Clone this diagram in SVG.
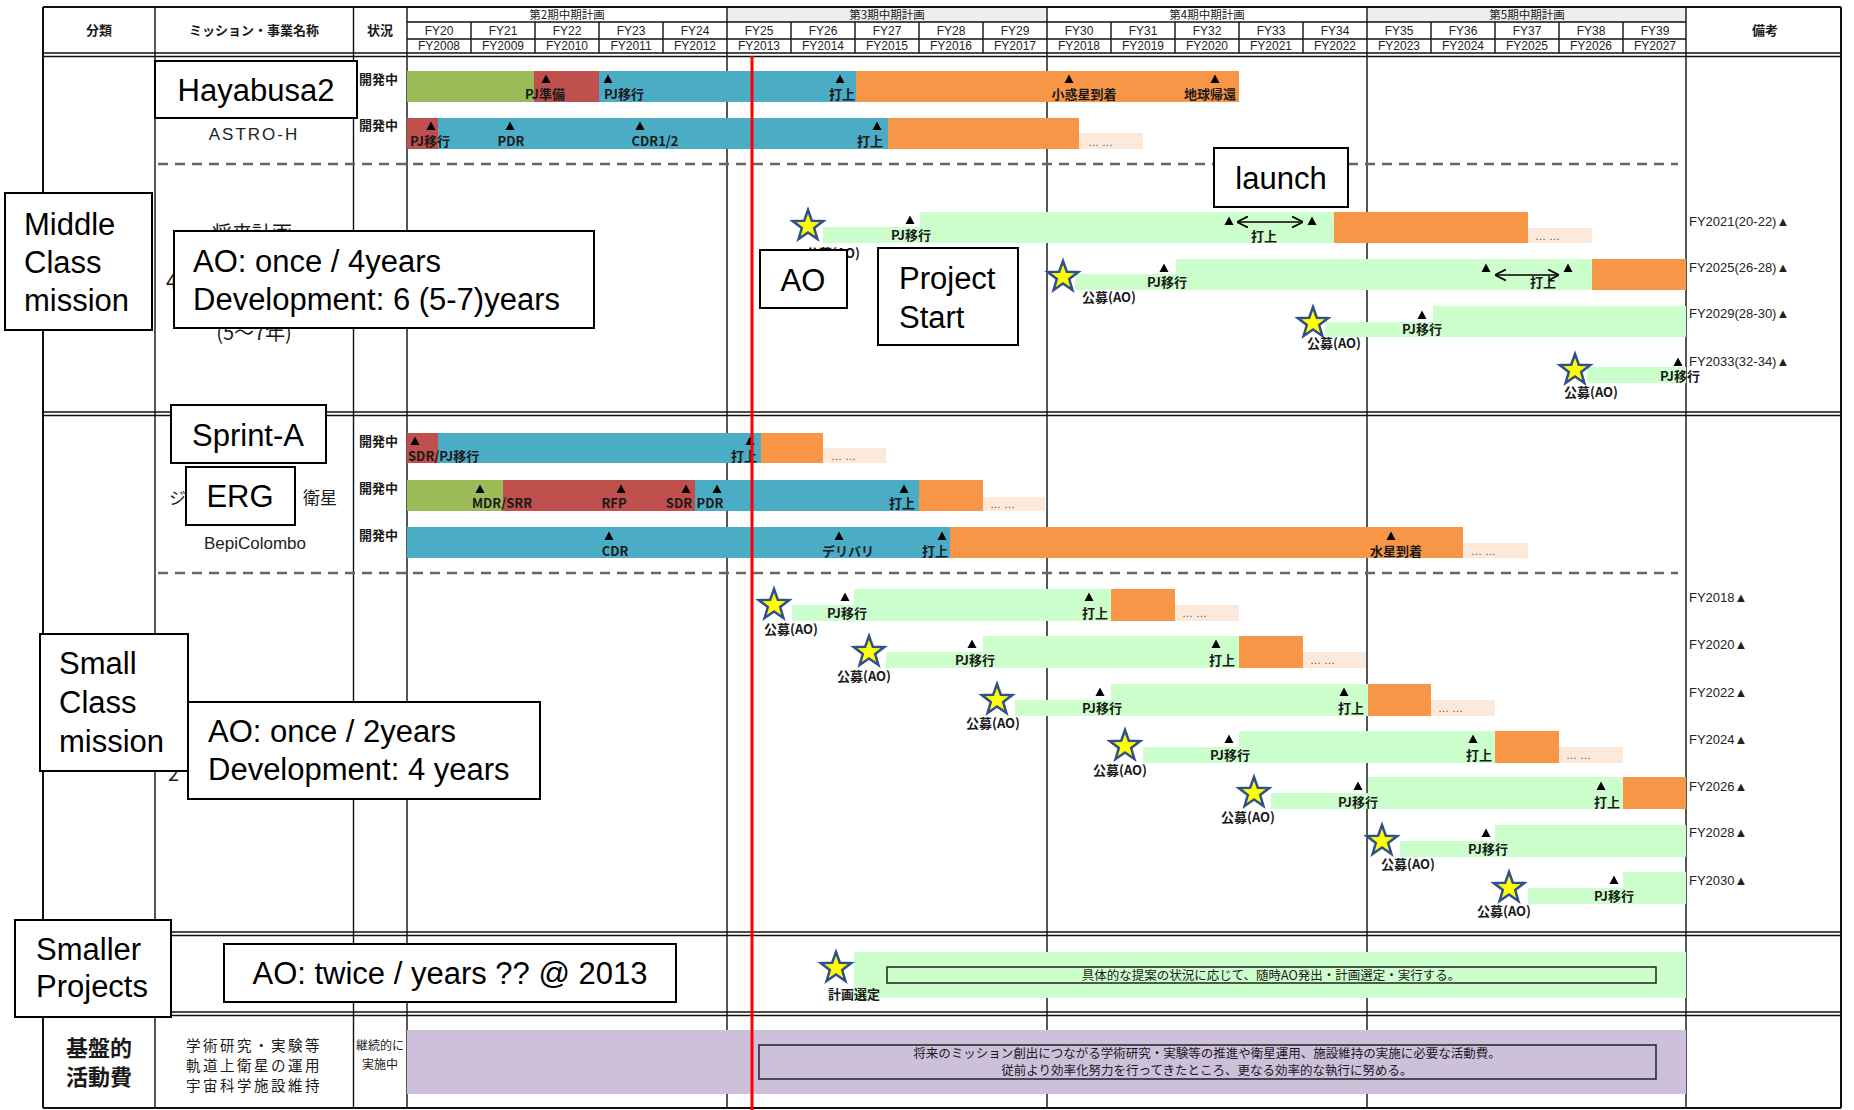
<svg xmlns="http://www.w3.org/2000/svg" xmlns:xlink="http://www.w3.org/1999/xlink" width="1854" height="1110" viewBox="0 0 1854 1110">
<style>
.jp{font-family:"Noto Sans CJK JP","Noto Sans CJK SC",sans-serif;fill:#1a1a1a}
.h{font-size:13px;font-weight:bold}
.hs{font-size:11.5px}
.lab{font-size:13px;font-weight:bold}
.ml{font-size:12.5px}
.rem{font-family:"Liberation Sans",Arial,sans-serif;font-size:13px;fill:#222}
.yr{font-family:"Liberation Sans",Arial,sans-serif;font-size:12px;fill:#222}
.en{font-family:"Liberation Sans",Arial,sans-serif;font-size:31px;fill:#000}
.nm{font-family:"Liberation Sans",Arial,sans-serif;font-size:17px;fill:#222}
.big{font-size:20px}
.box{fill:#fff;stroke:#000;stroke-width:2}
.ln{stroke:#111;stroke-width:1.4;fill:none}
.ln2{stroke:#111;stroke-width:2;fill:none}
.dash{stroke:#666;stroke-width:2.5;stroke-dasharray:10,7;fill:none}
.g{fill:#9bbb59}.r{fill:#c0504d}.b{fill:#4bacc6}.o{fill:#f79646}.p{fill:#fde9d9}.lg{fill:#ccffcc}.pu{fill:#ccc0da}
.dots{font-family:"Liberation Sans",Arial,sans-serif;font-size:11px;fill:#555}
.c{text-anchor:middle}
</style>
<defs>
<path id="tri" d="M0,-4.5 L4.5,4 L-4.5,4 Z" fill="#000"/>
<path id="star" d="M0,-16 L3.82,-5.26 L15.22,-4.94 L6.18,2.01 L9.4,12.94 L0,6.5 L-9.4,12.94 L-6.18,2.01 L-15.22,-4.94 L-3.82,-5.26 Z" fill="#ffff00" stroke="#2f4f8f" stroke-width="2.5" stroke-linejoin="miter"/>
<marker id="ah" viewBox="0 0 10 10" refX="9" refY="5" markerWidth="7" markerHeight="7" orient="auto-start-reverse"><path d="M0,0 L10,5 L0,10" fill="none" stroke="#000" stroke-width="1.6"/></marker>
</defs>
<rect width="1854" height="1110" fill="#fff"/>

<g id="header">
<rect x="727" y="7" width="320" height="15" fill="#eeeeee"/>
<rect x="1367" y="7" width="319" height="15" fill="#eeeeee"/>
<text class="jp h c" x="99" y="35">分類</text>
<text class="jp h c" x="254" y="35">ミッション・事業名称</text>
<text class="jp h c" x="380" y="35">状況</text>
<text class="jp h c" x="1765" y="35">備考</text>
<text class="jp hs c" x="567" y="19">第2期中期計画</text>
<text class="jp hs c" x="887" y="19">第3期中期計画</text>
<text class="jp hs c" x="1207" y="19">第4期中期計画</text>
<text class="jp hs c" x="1527" y="19">第5期中期計画</text>
<g class="yr" text-anchor="middle">
<text x="439" y="35">FY20</text><text x="503" y="35">FY21</text><text x="567" y="35">FY22</text><text x="631" y="35">FY23</text><text x="695" y="35">FY24</text>
<text x="759" y="35">FY25</text><text x="823" y="35">FY26</text><text x="887" y="35">FY27</text><text x="951" y="35">FY28</text><text x="1015" y="35">FY29</text>
<text x="1079" y="35">FY30</text><text x="1143" y="35">FY31</text><text x="1207" y="35">FY32</text><text x="1271" y="35">FY33</text><text x="1335" y="35">FY34</text>
<text x="1399" y="35">FY35</text><text x="1463" y="35">FY36</text><text x="1527" y="35">FY37</text><text x="1591" y="35">FY38</text><text x="1655" y="35">FY39</text>
<text x="439" y="50">FY2008</text><text x="503" y="50">FY2009</text><text x="567" y="50">FY2010</text><text x="631" y="50">FY2011</text><text x="695" y="50">FY2012</text>
<text x="759" y="50">FY2013</text><text x="823" y="50">FY2014</text><text x="887" y="50">FY2015</text><text x="951" y="50">FY2016</text><text x="1015" y="50">FY2017</text>
<text x="1079" y="50">FY2018</text><text x="1143" y="50">FY2019</text><text x="1207" y="50">FY2020</text><text x="1271" y="50">FY2021</text><text x="1335" y="50">FY2022</text>
<text x="1399" y="50">FY2023</text><text x="1463" y="50">FY2024</text><text x="1527" y="50">FY2025</text><text x="1591" y="50">FY2026</text><text x="1655" y="50">FY2027</text>
</g>
</g>

<g id="grid">
<path class="ln" d="M407,22 H1686 M407,39 H1686"/>
<path class="ln" d="M471,22 V53 M535,22 V53 M599,22 V53 M663,22 V53 M791,22 V53 M855,22 V53 M919,22 V53 M983,22 V53 M1111,22 V53 M1175,22 V53 M1239,22 V53 M1303,22 V53 M1431,22 V53 M1495,22 V53 M1559,22 V53 M1623,22 V53"/>
<path class="ln" d="M155,7 V1108 M353.5,7 V1108 M407,7 V1108 M727,7 V1108 M1047,7 V1108 M1367,7 V1108 M1686,7 V1108"/>
<path class="ln2" d="M43,7 V1108 M1841,7 V1108 M43,7 H1841 M43,1108 H1841"/>
<path class="ln" d="M43,53 H1841 M43,56.5 H1841 M43,412 H1841 M43,415.5 H1841 M43,932 H1841 M43,935.5 H1841 M43,1012 H1841 M43,1015.5 H1841"/>
<path class="dash" d="M158,164 H1678 M158,573 H1678"/>
</g>

<g id="status">
<text class="jp lab" x="359" y="84" font-size="12">開発中</text>
<text class="jp lab" x="359" y="130" font-size="12">開発中</text>
<text class="jp lab" x="359" y="446" font-size="12">開発中</text>
<text class="jp lab" x="359" y="493" font-size="12">開発中</text>
<text class="jp lab" x="359" y="540" font-size="12">開発中</text>
<text class="jp" x="380" y="1050" font-size="12" text-anchor="middle">継続的に</text>
<text class="jp" x="380" y="1069" font-size="12" text-anchor="middle">実施中</text>
</g>

<g id="names">
<text class="nm c" x="254" y="140" letter-spacing="2" font-size="19">ASTRO-H</text>
<text class="nm c" x="255" y="549" font-size="16.5">BepiColombo</text>
<text class="jp" x="169" y="504" font-size="17">ジ</text>
<text class="jp" x="303" y="504" font-size="17">衛星</text>
<text class="jp c big" x="252" y="241">将来計画</text>
<text class="jp big" x="166" y="289">4</text>
<text class="jp c big" x="254" y="340">(5～7年)</text>
<text class="jp big" x="168" y="781" font-size="18">2</text>
<text class="jp c" x="99" y="1056" font-size="22" font-weight="bold">基盤的</text>
<text class="jp c" x="99" y="1085" font-size="22" font-weight="bold">活動費</text>
<text class="jp c" x="254" y="1051" font-size="14.5" letter-spacing="2.5">学術研究・実験等</text>
<text class="jp c" x="254" y="1071" font-size="14.5" letter-spacing="2.5">軌道上衛星の運用</text>
<text class="jp c" x="254" y="1091" font-size="14.5" letter-spacing="2.5">宇宙科学施設維持</text>
</g>

<g id="hayabusa2-bar">
<rect class="g" x="407" y="71" width="127" height="31"/>
<rect class="r" x="534" y="71" width="65" height="31"/>
<rect class="b" x="599" y="71" width="257" height="31"/>
<rect class="o" x="856" y="71" width="383" height="31"/>
<use href="#tri" x="546" y="79"/><text class="jp lab c" x="545" y="99">PJ準備</text>
<use href="#tri" x="608" y="79"/><text class="jp lab c" x="624" y="99">PJ移行</text>
<use href="#tri" x="840" y="79"/><text class="jp lab c" x="842" y="99">打上</text>
<use href="#tri" x="1069" y="79"/><text class="jp lab c" x="1084" y="99">小惑星到着</text>
<use href="#tri" x="1215" y="79"/><text class="jp lab c" x="1210" y="99">地球帰還</text>
</g>

<g id="astroh-bar">
<rect class="r" x="407" y="118" width="31" height="31"/>
<rect class="b" x="438" y="118" width="450" height="31"/>
<rect class="o" x="888" y="118" width="191" height="31"/>
<rect class="p" x="1079" y="133" width="64" height="16"/>
<text class="dots" x="1088" y="146">…     …</text>
<use href="#tri" x="431" y="126"/><text class="jp lab c" x="430" y="146">PJ移行</text>
<use href="#tri" x="510" y="126"/><text class="jp lab c" x="511" y="146">PDR</text>
<use href="#tri" x="640" y="126"/><text class="jp lab c" x="655" y="146">CDR1/2</text>
<use href="#tri" x="877" y="126"/><text class="jp lab c" x="870" y="146">打上</text>
</g>

<g id="middle-future">
<rect class="lg" x="823" y="227" width="97" height="16"/>
<rect class="lg" x="920" y="212" width="414" height="31"/>
<rect class="o" x="1334" y="212" width="194" height="31"/>
<rect class="p" x="1528" y="228" width="64" height="15"/>
<text class="dots" x="1535" y="240">…     …</text>
<use href="#star" x="808" y="226"/>
<use href="#tri" x="910" y="220"/><text class="jp lab c" x="911" y="240">PJ移行</text>
<use href="#tri" x="1229" y="221"/><use href="#tri" x="1312" y="221"/>
<text class="jp lab c" x="1264" y="241">打上</text>
<text class="jp lab c" x="833" y="258">公募(AO)</text>

<rect class="lg" x="1075" y="274" width="101" height="16"/>
<rect class="lg" x="1176" y="259" width="416" height="31"/>
<rect class="o" x="1592" y="259" width="94" height="31"/>
<use href="#star" x="1063" y="277"/>
<use href="#tri" x="1164" y="268"/><text class="jp lab c" x="1167" y="287">PJ移行</text>
<use href="#tri" x="1486" y="268"/><use href="#tri" x="1568" y="268"/>
<text class="jp lab c" x="1543" y="287">打上</text>
<text class="jp lab c" x="1109" y="302">公募(AO)</text>

<rect class="lg" x="1325" y="322" width="108" height="15"/>
<rect class="lg" x="1433" y="306" width="253" height="31"/>
<use href="#star" x="1313" y="323"/>
<use href="#tri" x="1422" y="315"/><text class="jp lab c" x="1422" y="334">PJ移行</text>
<text class="jp lab c" x="1334" y="348">公募(AO)</text>

<rect class="lg" x="1587" y="367" width="99" height="16"/>
<use href="#star" x="1575" y="370"/>
<use href="#tri" x="1678" y="362"/><text class="jp lab c" x="1680" y="381">PJ移行</text>
<text class="jp lab c" x="1591" y="397">公募(AO)</text>

<text class="rem" x="1689" y="226">FY2021(20-22)▲</text>
<text class="rem" x="1689" y="272">FY2025(26-28)▲</text>
<text class="rem" x="1689" y="318">FY2029(28-30)▲</text>
<text class="rem" x="1689" y="366">FY2033(32-34)▲</text>
</g>

<g id="sprinta-bar">
<rect class="r" x="407" y="433" width="31" height="30"/>
<rect class="b" x="438" y="433" width="323" height="30"/>
<rect class="o" x="761" y="433" width="62" height="30"/>
<rect class="p" x="823" y="448" width="63" height="15"/>
<text class="dots" x="831" y="460">…     …</text>
<use href="#tri" x="415" y="441"/><text class="jp lab" x="408" y="461">SDR/PJ移行</text>
<use href="#tri" x="750" y="441"/><text class="jp lab c" x="744" y="461">打上</text>
</g>

<g id="erg-bar">
<rect class="g" x="407" y="480" width="96" height="31"/>
<rect class="r" x="503" y="480" width="192" height="31"/>
<rect class="b" x="695" y="480" width="224" height="31"/>
<rect class="o" x="919" y="480" width="64" height="31"/>
<rect class="p" x="983" y="497" width="62" height="14"/>
<text class="dots" x="990" y="508">…     …</text>
<use href="#tri" x="480" y="489"/><text class="jp lab c" x="502" y="508">MDR/SRR</text>
<use href="#tri" x="621" y="489"/><text class="jp lab c" x="614" y="508">RFP</text>
<use href="#tri" x="686" y="489"/><text class="jp lab c" x="679" y="508">SDR</text>
<use href="#tri" x="717" y="489"/><text class="jp lab c" x="710" y="508">PDR</text>
<use href="#tri" x="904" y="489"/><text class="jp lab c" x="902" y="508">打上</text>
</g>

<g id="bepi-bar">
<rect class="b" x="407" y="527" width="543" height="31"/>
<rect class="o" x="950" y="527" width="513" height="31"/>
<rect class="p" x="1463" y="543" width="65" height="15"/>
<text class="dots" x="1471" y="555">…     …</text>
<use href="#tri" x="609" y="536"/><text class="jp lab c" x="615" y="556">CDR</text>
<use href="#tri" x="839" y="536"/><text class="jp lab c" x="848" y="556">デリバリ</text>
<use href="#tri" x="942" y="536"/><text class="jp lab c" x="935" y="556">打上</text>
<use href="#tri" x="1391" y="536"/><text class="jp lab c" x="1396" y="556">水星到着</text>
</g>

<g id="small-future">
<rect class="lg" x="792" y="605" width="62" height="16"/><rect class="lg" x="854" y="589" width="257" height="32"/>
<rect class="o" x="1111" y="589" width="64" height="32"/><rect class="p" x="1175" y="605" width="64" height="16"/>
<text class="dots" x="1182" y="617">…     …</text>
<use href="#star" x="774" y="605"/>
<use href="#tri" x="845" y="597"/><text class="jp lab c" x="847" y="618">PJ移行</text>
<use href="#tri" x="1089" y="597"/><text class="jp lab c" x="1095" y="618">打上</text>
<text class="jp lab c" x="791" y="634">公募(AO)</text>

<rect class="lg" x="886" y="652" width="97" height="16"/><rect class="lg" x="983" y="636" width="256" height="32"/>
<rect class="o" x="1239" y="636" width="64" height="32"/><rect class="p" x="1303" y="652" width="63" height="16"/>
<text class="dots" x="1310" y="664">…     …</text>
<use href="#star" x="869" y="652"/>
<use href="#tri" x="972" y="644"/><text class="jp lab c" x="975" y="665">PJ移行</text>
<use href="#tri" x="1216" y="644"/><text class="jp lab c" x="1222" y="665">打上</text>
<text class="jp lab c" x="864" y="681">公募(AO)</text>

<rect class="lg" x="1015" y="700" width="96" height="16"/><rect class="lg" x="1111" y="684" width="257" height="32"/>
<rect class="o" x="1368" y="684" width="63" height="32"/><rect class="p" x="1431" y="700" width="64" height="16"/>
<text class="dots" x="1438" y="712">…     …</text>
<use href="#star" x="997" y="700"/>
<use href="#tri" x="1100" y="692"/><text class="jp lab c" x="1102" y="713">PJ移行</text>
<use href="#tri" x="1344" y="692"/><text class="jp lab c" x="1351" y="713">打上</text>
<text class="jp lab c" x="993" y="728">公募(AO)</text>

<rect class="lg" x="1143" y="747" width="96" height="16"/><rect class="lg" x="1239" y="731" width="256" height="32"/>
<rect class="o" x="1495" y="731" width="64" height="32"/><rect class="p" x="1559" y="747" width="64" height="16"/>
<text class="dots" x="1566" y="759">…     …</text>
<use href="#star" x="1125" y="746"/>
<use href="#tri" x="1229" y="739"/><text class="jp lab c" x="1230" y="760">PJ移行</text>
<use href="#tri" x="1473" y="739"/><text class="jp lab c" x="1479" y="760">打上</text>
<text class="jp lab c" x="1120" y="775">公募(AO)</text>

<rect class="lg" x="1271" y="793" width="97" height="16"/><rect class="lg" x="1368" y="777" width="255" height="32"/>
<rect class="o" x="1623" y="777" width="63" height="32"/>
<use href="#star" x="1254" y="793"/>
<use href="#tri" x="1358" y="786"/><text class="jp lab c" x="1358" y="807">PJ移行</text>
<use href="#tri" x="1601" y="786"/><text class="jp lab c" x="1607" y="807">打上</text>
<text class="jp lab c" x="1248" y="822">公募(AO)</text>

<rect class="lg" x="1400" y="841" width="95" height="16"/><rect class="lg" x="1495" y="825" width="191" height="32"/>
<use href="#star" x="1382" y="841"/>
<use href="#tri" x="1486" y="833"/><text class="jp lab c" x="1488" y="854">PJ移行</text>
<text class="jp lab c" x="1408" y="869">公募(AO)</text>

<rect class="lg" x="1528" y="888" width="95" height="16"/><rect class="lg" x="1623" y="872" width="63" height="32"/>
<use href="#star" x="1509" y="888"/>
<use href="#tri" x="1614" y="880"/><text class="jp lab c" x="1614" y="901">PJ移行</text>
<text class="jp lab c" x="1504" y="916">公募(AO)</text>

<text class="rem" x="1689" y="602">FY2018▲</text>
<text class="rem" x="1689" y="649">FY2020▲</text>
<text class="rem" x="1689" y="697">FY2022▲</text>
<text class="rem" x="1689" y="744">FY2024▲</text>
<text class="rem" x="1689" y="791">FY2026▲</text>
<text class="rem" x="1689" y="837">FY2028▲</text>
<text class="rem" x="1689" y="885">FY2030▲</text>
</g>

<g id="smaller-bar">
<rect class="lg" x="854" y="952" width="832" height="46"/>
<rect x="887" y="967" width="769" height="16" fill="none" stroke="#222" stroke-width="1.5"/>
<text class="jp ml c" x="1271" y="980">具体的な提案の状況に応じて、随時AO発出・計画選定・実行する。</text>
<use href="#star" x="836" y="968"/>
<text class="jp lab c" x="854" y="999">計画選定</text>
</g>

<g id="kiban-bar">
<rect class="pu" x="407" y="1030" width="1279" height="64"/>
<rect x="759" y="1045" width="897" height="34" fill="none" stroke="#222" stroke-width="1.5"/>
<text class="jp ml c" x="1207" y="1058">将来のミッション創出につながる学術研究・実験等の推進や衛星運用、施設維持の実施に必要な活動費。</text>
<text class="jp ml c" x="1207" y="1075">従前より効率化努力を行ってきたところ、更なる効率的な執行に努める。</text>
</g>

<g id="connectors">
<line x1="1238" y1="222" x2="1302" y2="222" stroke="#000" stroke-width="1.6" marker-start="url(#ah)" marker-end="url(#ah)"/>
<line x1="1496" y1="275" x2="1558" y2="275" stroke="#000" stroke-width="1.6" marker-start="url(#ah)" marker-end="url(#ah)"/>
<line x1="752" y1="56" x2="752" y2="1110" stroke="#ff0000" stroke-width="3"/>
</g>

<g id="box-hayabusa2"><rect class="box" x="155" y="61" width="202" height="57"/><text class="en c" x="256" y="101">Hayabusa2</text></g>
<g id="box-middle"><rect class="box" x="5" y="193" width="147" height="137"/><text class="en" x="24" y="235">Middle</text><text class="en" x="24" y="273">Class</text><text class="en" x="24" y="311">mission</text></g>
<g id="box-ao-middle"><rect class="box" x="174" y="231" width="420" height="97"/><text class="en" x="193" y="272">AO: once / 4years</text><text class="en" x="193" y="310">Development: 6 (5-7)years</text></g>
<g id="box-ao"><rect class="box" x="760" y="250" width="87" height="58"/><text class="en c" x="803" y="291">AO</text></g>
<g id="box-project-start"><rect class="box" x="878" y="248" width="140" height="97"/><text class="en" x="899" y="289">Project</text><text class="en" x="899" y="328">Start</text></g>
<g id="box-launch"><rect class="box" x="1214" y="148" width="134" height="59"/><text class="en c" x="1281" y="189">launch</text></g>
<g id="box-sprinta"><rect class="box" x="171" y="405" width="155" height="58"/><text class="en c" x="248" y="446">Sprint-A</text></g>
<g id="box-erg"><rect class="box" x="186" y="467" width="109" height="58"/><text class="en c" x="240" y="507">ERG</text></g>
<g id="box-small"><rect class="box" x="40" y="634" width="148" height="137"/><text class="en" x="59" y="674">Small</text><text class="en" x="59" y="713">Class</text><text class="en" x="59" y="752">mission</text></g>
<g id="box-ao-small"><rect class="box" x="188" y="702" width="352" height="97"/><text class="en" x="208" y="742">AO: once / 2years</text><text class="en" x="208" y="780">Development: 4 years</text></g>
<g id="box-smaller"><rect class="box" x="15" y="920" width="156" height="97"/><text class="en" x="36" y="960">Smaller</text><text class="en" x="36" y="997">Projects</text></g>
<g id="box-ao-twice"><rect class="box" x="224" y="944" width="452" height="58"/><text class="en c" x="450" y="984">AO: twice / years ?? @ 2013</text></g>
</svg>
